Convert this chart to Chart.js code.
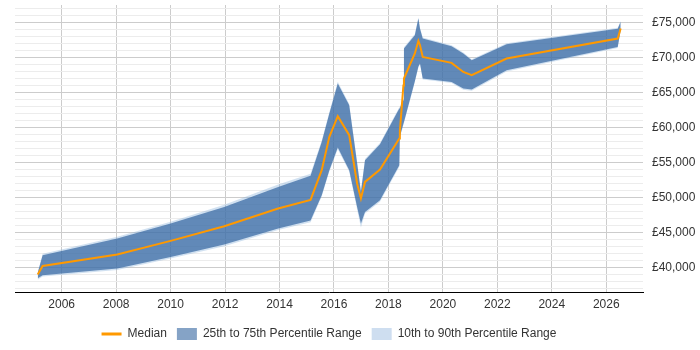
<!DOCTYPE html>
<html>
<head>
<meta charset="utf-8">
<script src="https://cdn.jsdelivr.net/npm/chart.js@4/dist/chart.umd.min.js"></script>
<style>
  html, body { margin: 0; padding: 0; background: #fff; }
  #wrap { width: 700px; height: 350px; }
</style>
</head>
<body>
<div id="wrap"><canvas id="salaryChart"></canvas></div>
<script>
// points along the time axis (decimal years)
const years = [2005.12, 2005.30, 2008.04, 2010.00, 2011.97, 2013.95, 2015.14, 2015.55, 2015.83,
    2016.14, 2016.56, 2016.85, 2016.99, 2017.14, 2017.69, 2018.40, 2018.42, 2018.55, 2018.57,
    2018.97, 2019.10, 2019.16, 2019.26, 2020.32, 2020.75, 2021.06, 2022.34, 2026.42, 2026.53];

const median = [39000, 40230, 41860, 43800, 45900, 48430, 49650, 53900, 58660,
    61610, 58900, 52000, 49860, 52230, 54000, 58430, 59440, 65990, 67000,
    70570, 72370, 71760, 70090, 69230, 67940, 67470, 69860, 72710, 74140];

const p75 = [39250, 41760, 44140, 46290, 48660, 51510, 53100, 57940, 61990,
    66290, 63190, 54900, 50800, 55330, 57600, 62700, 62800, 63900, 71300,
    73190, 75570, 74100, 72700, 71610, 70570, 69610, 71900, 74100, 75100];

const p25 = [38450, 38900, 39860, 41510, 43290, 45570, 46700, 50330, 53900,
    57140, 53900, 48660, 46290, 47940, 49610, 54600, 58700, 60520, 60800,
    66600, 68700, 69140, 67000, 66510, 65570, 65430, 68190, 71500, 73900];

const p90 = [39350, 41950, 44400, 46550, 48950, 51850, 53400, 58150, 62200,
    66550, 63350, 55100, 51000, 55500, 57800, 62900, 63000, 64100, 71450,
    73350, 75700, 74250, 72850, 71750, 70700, 69750, 72050, 74250, 75200];

const p10 = [38250, 38700, 39650, 41300, 43050, 45350, 46450, 50150, 53700,
    56900, 53700, 48300, 45700, 47700, 49400, 54400, 58500, 60350, 60650,
    66450, 68550, 69000, 66850, 66350, 65400, 65250, 68000, 71350, 73800];

const xTicks = [2006, 2008, 2010, 2012, 2014, 2016, 2018, 2020, 2022, 2024, 2026];

// every £1,000 gets a grid line, labels only on the £5,000 ones
const yTicks = [37000, 38000, 39000, 40000, 41000, 42000, 43000, 44000, 45000, 46000,
    47000, 48000, 49000, 50000, 51000, 52000, 53000, 54000, 55000, 56000,
    57000, 58000, 59000, 60000, 61000, 62000, 63000, 64000, 65000, 66000,
    67000, 68000, 69000, 70000, 71000, 72000, 73000, 74000, 75000, 76000, 77000];

const seriesLabels = ['Median', '25th to 75th Percentile Range', '10th to 90th Percentile Range'];

const colors = {
    median: '#ff9900',
    iqr: 'rgba(50, 100, 160, 0.7)',
    iqrLegend: '#85a3c6',
    outer: 'rgba(140, 180, 220, 0.4)',
    outerLegend: '#cedef0',
    gridMajor: '#cccccc',
    gridMinor: '#ececec',
    text: '#333333'
};

function pts(values) {
    return years.map((y, i) => ({ x: y, y: values[i] }));
}

function fmtMoney(v) {
    return '£' + String(v).replace(/\B(?=(\d{3})+(?!\d))/g, ',');
}

Chart.defaults.font.family = '"Liberation Sans", Arial, sans-serif';
Chart.defaults.font.size = 12;
Chart.defaults.color = colors.text;

new Chart(document.getElementById('salaryChart'), {
    type: 'line',
    data: {
        datasets: [
            {
                label: seriesLabels[0],
                data: pts(median),
                borderColor: colors.median,
                backgroundColor: colors.median,
                borderWidth: 2,
                pointRadius: 0,
                pointStyle: 'line',
                fill: false,
                order: 0
            },
            {
                label: seriesLabels[1],
                data: pts(p75),
                borderWidth: 0,
                borderColor: 'transparent',
                backgroundColor: colors.iqr,
                pointRadius: 0,
                pointStyle: 'rect',
                fill: '+1',
                order: 1
            },
            {
                label: 'p25',
                data: pts(p25),
                borderWidth: 0,
                borderColor: 'transparent',
                backgroundColor: colors.iqr,
                pointRadius: 0,
                fill: false,
                order: 1
            },
            {
                label: seriesLabels[2],
                data: pts(p90),
                borderWidth: 0,
                borderColor: 'transparent',
                backgroundColor: colors.outer,
                pointRadius: 0,
                pointStyle: 'rect',
                fill: '+1',
                order: 2
            },
            {
                label: 'p10',
                data: pts(p10),
                borderWidth: 0,
                borderColor: 'transparent',
                backgroundColor: colors.outer,
                pointRadius: 0,
                fill: false,
                order: 2
            }
        ]
    },
    options: {
        responsive: true,
        maintainAspectRatio: false,
        animation: false,
        layout: { padding: { left: 15, top: 5, right: 0, bottom: 0 } },
        plugins: {
            tooltip: { enabled: false },
            legend: {
                position: 'bottom',
                fullSize: false,
                labels: {
                    usePointStyle: true,
                    pointStyleWidth: 20,
                    boxHeight: 12,
                    padding: 10,
                    color: colors.text,
                    filter: item => seriesLabels.includes(item.text),
                    generateLabels: chart => {
                        const items = Chart.defaults.plugins.legend.labels.generateLabels(chart);
                        items.forEach(it => {
                            if (it.text === seriesLabels[1]) it.fillStyle = colors.iqrLegend;
                            if (it.text === seriesLabels[2]) it.fillStyle = colors.outerLegend;
                            if (it.text === seriesLabels[0]) it.lineWidth = 3;
                        });
                        return items;
                    }
                }
            }
        },
        scales: {
            x: {
                type: 'linear',
                min: 2004.285,
                max: 2027.35,
                afterBuildTicks: scale => {
                    scale.ticks = xTicks.map(v => ({ value: v }));
                },
                afterFit: scale => {
                    scale.height = 26;
                    scale.paddingLeft = 0;
                    scale.paddingRight = 0;
                },
                ticks: {
                    padding: 5,
                    autoSkip: false,
                    maxRotation: 0,
                    color: colors.text,
                    callback: v => String(v)
                },
                grid: { color: colors.gridMajor, drawTicks: false },
                border: { display: true, color: '#000000', width: 1 }
            },
            y: {
                position: 'right',
                min: 36500,
                max: 77500,
                afterBuildTicks: scale => {
                    scale.ticks = yTicks.map(v => ({ value: v }));
                },
                afterFit: scale => {
                    scale.width = 57;
                    scale.paddingTop = 0;
                    scale.paddingBottom = 0;
                },
                ticks: {
                    padding: 9,
                    autoSkip: false,
                    color: colors.text,
                    callback: v => (v % 5000 === 0 ? fmtMoney(v) : '')
                },
                grid: {
                    drawTicks: false,
                    color: ctx => (ctx.tick && ctx.tick.value % 5000 === 0 ? colors.gridMajor : colors.gridMinor)
                },
                border: { display: false }
            }
        }
    }
});
</script>
</body>
</html>
